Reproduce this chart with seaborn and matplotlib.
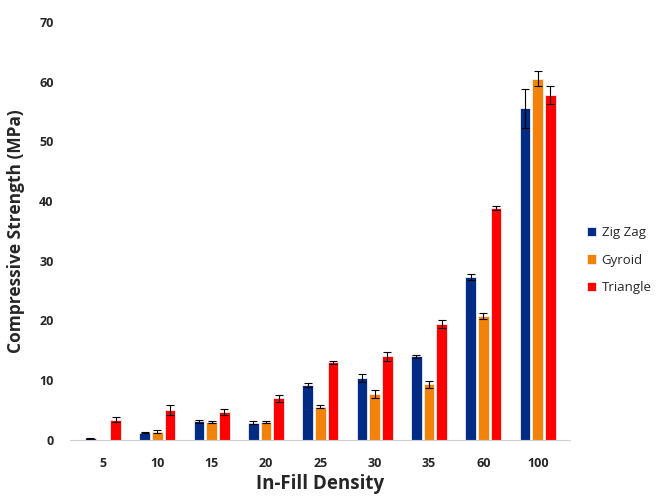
import pandas as pd
import seaborn as sns
import matplotlib.pyplot as plt

# Données
densities = ['5', '10', '15', '20', '25', '30', '35', '60', '100']
zigzag = [0.3, 1.2, 3.1, 2.9, 9.2, 10.4, 14.0, 27.2, 55.5]
gyroid = [0.0, 1.4, 3.0, 3.0, 5.6, 7.7, 9.3, 20.7, 60.5]
triangle = [3.4, 5.0, 4.7, 7.0, 13.0, 14.0, 19.4, 38.8, 57.7]
zigzag_err = [0.1, 0.1, 0.3, 0.3, 0.4, 0.7, 0.3, 0.5, 3.2]
gyroid_err = [0.0, 0.3, 0.1, 0.1, 0.3, 0.6, 0.6, 0.5, 1.2]
triangle_err = [0.4, 0.8, 0.5, 0.6, 0.3, 0.7, 0.6, 0.3, 1.5]

series = ['Zig Zag', 'Gyroid', 'Triangle']
colors = ['#002B85', '#F2820A', '#FF0000']

df = pd.DataFrame({'density': densities * 3,
                   'strength': zigzag + gyroid + triangle,
                   'err': zigzag_err + gyroid_err + triangle_err,
                   'type': [s for s in series for _ in densities]})

sns.set_style('white')
plt.rcParams['font.family'] = ['Open Sans', 'DejaVu Sans']

fig = plt.figure(figsize=(6.57, 4.96), dpi=100)
ax = fig.add_axes([0.107, 0.113, 0.761, 0.843])
sns.barplot(data=df, x='density', y='strength', hue='type', order=densities,
            hue_order=series, palette=colors, saturation=1, width=0.7, gap=0.16,
            errorbar=None, edgecolor='#f0f0f0', linewidth=0.6, ax=ax)

# Barres d'erreur placées sur les barres tracées
for i, s in enumerate(series):
    sub = df[df['type'] == s].set_index('density').loc[densities]
    bars = ax.containers[i]
    xs = [b.get_x() + b.get_width() / 2 for b in bars]
    for x, v, e in zip(xs, sub['strength'], sub['err']):
        if v > 0 and e > 0:
            ax.errorbar(x, v, yerr=e, fmt='none', ecolor='black',
                        elinewidth=0.8, capsize=3, capthick=0.8)

ax.set_ylim(0, 70)
ax.set_xlim(-0.6, len(densities) - 0.4)
ax.set_yticks(range(0, 71, 10))
for sp in ['top', 'right', 'left']:
    ax.spines[sp].set_visible(False)
ax.spines['bottom'].set_color('#d0d0d0')
ax.tick_params(axis='both', length=0, labelsize=9)
ax.tick_params(axis='x', pad=12)
ax.tick_params(axis='y', pad=12)
for lab in ax.get_xticklabels() + ax.get_yticklabels():
    lab.set_fontweight('bold')

ax.set_xlabel('In-Fill Density', fontsize=13.5, fontweight='bold', labelpad=3)
ax.set_ylabel('Compressive Strength (MPa)', fontsize=12.5, fontweight='bold', labelpad=10)

ax.legend(title=None, loc='center left', bbox_to_anchor=(1.01, 0.43), frameon=False,
          fontsize=9.5, handlelength=0.7, handleheight=0.7, labelspacing=1.1,
          handletextpad=0.4)

fig.savefig('out.png', dpi=100)
